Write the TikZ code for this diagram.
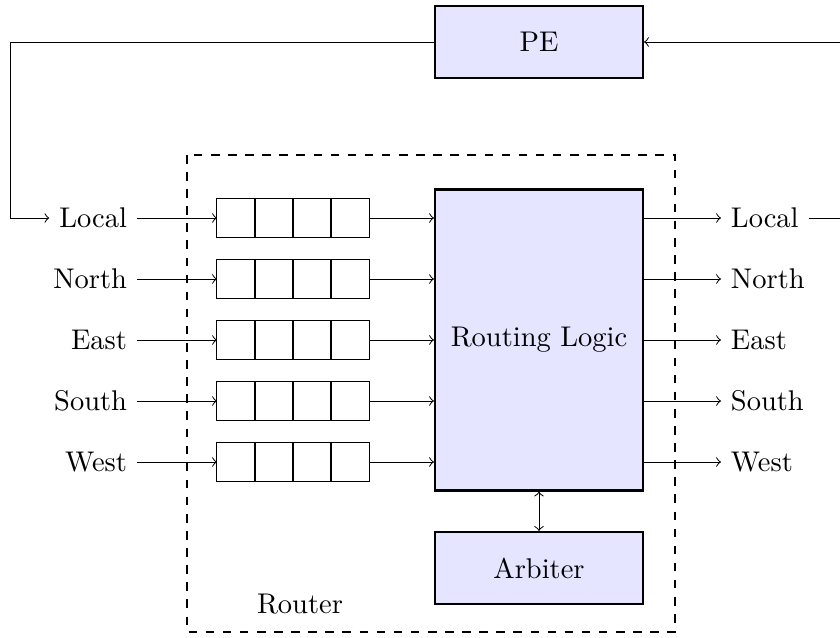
\documentclass[tikz,border=0pt]{standalone}
\begin{document}
\begin{tikzpicture}[x=0.351pt,y=-0.351pt,line width=0.35pt,
  blk/.style={draw,thick,fill=blue!10,minimum width=72.9pt,inner sep=0pt},
  cell/.style={draw,minimum width=13.34pt,minimum height=13.34pt,inner sep=0pt,outer sep=0pt},
  lbl/.style={inner sep=3.33pt},
  conn/.style={->},
  routerbox/.style={draw,thick,dashed}]
\useasboundingbox (0,0) rectangle (840,638);
\clip (0,0) rectangle (840,638);

% router boundary
\draw[routerbox] (187,155) rectangle (675,632);
\node (routerlbl) at (300,604) {Router};

% blocks
\node[blk,minimum height=25.2pt] (pe) at (539,42) {PE};
\node[blk,minimum height=105.6pt] (rl) at (539,340) {Routing Logic};
\node[blk,minimum height=25.2pt] (arb) at (539,568) {Arbiter};

% inputs, queues, outputs
\foreach \i/\name/\yy in {1/Local/218,2/North/279,3/East/340,4/South/401,5/West/462}{
  \node[lbl,anchor=east] (in\i) at (137,\yy) {\name};
  \foreach \k in {1,...,4}{
    \node[cell] (q\i-\k) at ({217+19+38*(\k-1)},\yy) {};
  }
  \node[lbl,anchor=west] (out\i) at (721,\yy) {\name};
  \draw[conn] (in\i.east) -- (q\i-1.west);
  \draw[conn] (q\i-4.east) -- (rl.west |- q\i-4.east);
  \draw[conn] (rl.east |- out\i.west) -- (out\i.west);
}

% arbiter link
\draw[<->] (rl.south) -- (arb.north);

% feedback loops
\coordinate (lc1) at (10,42);
\coordinate (lc2) at (10,218);
\draw[conn] (pe.west) -- (lc1) -- (lc2) -- (in1.west);
\coordinate (rc1) at (860,218);
\coordinate (rc2) at (860,42);
\draw[conn] (out1.east) -- (rc1) -- (rc2) -- (pe.east);
\end{tikzpicture}
\end{document}
